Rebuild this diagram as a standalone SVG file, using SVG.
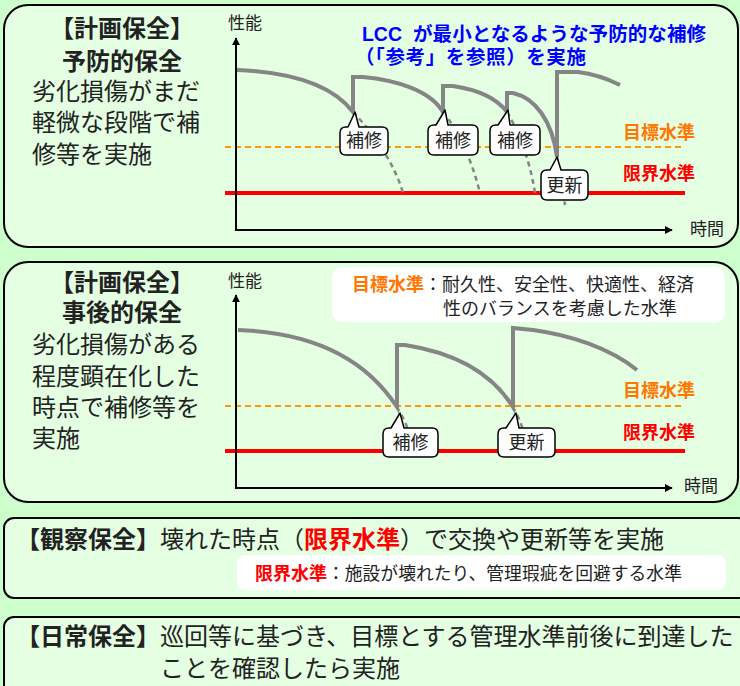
<svg xmlns="http://www.w3.org/2000/svg" width="740" height="686" viewBox="0 0 740 686">
<defs>
<marker id="arr" viewBox="0 0 10 10" refX="9" refY="5" markerWidth="4" markerHeight="4" orient="auto" markerUnits="strokeWidth">
<path d="M0,0 L10,5 L0,10 Z" fill="#000"/>
</marker>
<style>
text{font-family:"Noto Sans CJK JP","Noto Sans",sans-serif;fill:#222}
.b{font-weight:bold}
.panel{fill:#E4FFE2;stroke:#000;stroke-width:2}
.wbox{fill:#fff;stroke:none}
.callout{fill:#fff;stroke:#000;stroke-width:1.5;stroke-linejoin:round}
.curve{fill:none;stroke:#858585;stroke-width:4}
.dash{fill:none;stroke:#858585;stroke-width:2.5;stroke-dasharray:5 4}
.tgt{stroke:#FF9900;stroke-width:2;stroke-dasharray:6 4}
.lim{stroke:#FF0000;stroke-width:4}
.axis{stroke:#000;stroke-width:2;fill:none;marker-end:url(#arr)}
.h{font-size:24px}
.s{font-size:17px}
.c{font-size:18px;text-anchor:middle}
.lv{font-size:18px;font-weight:bold}
.org{fill:#FF7700}
.red{fill:#FF0000}
.blue{fill:#0000FF;font-size:19.5px;font-weight:bold}
</style>
</defs>
<rect width="740" height="686" fill="#CCFFCC"/>

<!-- Panel 1: preventive -->
<g id="panel-preventive">
<rect class="panel" x="4" y="5" width="734" height="242" rx="24"/>
<text class="h b" x="122" y="37" text-anchor="middle">【計画保全】</text>
<text class="h b" x="122" y="70" text-anchor="middle">予防的保全</text>
<text class="h" x="32" y="100">劣化損傷がまだ</text>
<text class="h" x="32" y="131">軽微な段階で補</text>
<text class="h" x="32" y="163">修等を実施</text>
<text class="blue" x="362" y="41"><tspan style="font-family:'Liberation Sans',Arial,sans-serif" textLength="40">LCC</tspan><tspan x="413" textLength="293">が最小となるような予防的な補修</tspan></text>
<text class="blue" x="355" y="64" textLength="231">（「参考」を参照）を実施</text>
<line class="tgt" x1="225" y1="147" x2="685" y2="147"/>
<line class="lim" x1="225" y1="193" x2="685" y2="193"/>
<line class="axis" x1="236" y1="231" x2="236" y2="38"/>
<line class="axis" x1="235" y1="230" x2="672" y2="230"/>
<text class="s" x="228" y="29">性能</text>
<text class="s" x="690" y="235">時間</text>
<text class="lv org" x="623" y="139">目標水準</text>
<text class="lv red" x="623" y="180">限界水準</text>
</g>

<!-- Panel 2: corrective -->
<g id="panel-corrective">
<rect class="panel" x="4" y="262" width="734" height="240" rx="24"/>
<text class="h b" x="122" y="291" text-anchor="middle">【計画保全】</text>
<text class="h b" x="122" y="321" text-anchor="middle">事後的保全</text>
<text class="h" x="32" y="353">劣化損傷がある</text>
<text class="h" x="32" y="385">程度顕在化した</text>
<text class="h" x="32" y="416">時点で補修等を</text>
<text class="h" x="32" y="447">実施</text>
<rect class="wbox" x="332" y="267" width="393" height="55" rx="10"/>
<text x="352" y="291" style="font-size:18px"><tspan class="b org">目標水準</tspan>：耐久性、安全性、快適性、経済</text>
<text x="443" y="315" style="font-size:18px">性のバランスを考慮した水準</text>
<line class="tgt" x1="225" y1="406" x2="685" y2="406"/>
<line class="lim" x1="225" y1="451" x2="685" y2="451"/>
<line class="axis" x1="236" y1="489" x2="236" y2="295"/>
<line class="axis" x1="235" y1="488" x2="672" y2="488"/>
<text class="s" x="228" y="287">性能</text>
<text class="s" x="684" y="492">時間</text>
<text class="lv org" x="623" y="397">目標水準</text>
<text class="lv red" x="623" y="439">限界水準</text>
</g>

<!-- Panel 3: observation -->
<g id="panel-observation">
<rect class="panel" x="4" y="518" width="744" height="80" rx="10"/>
<text class="h" x="16" y="548"><tspan class="b">【観察保全】</tspan>壊れた時点（<tspan class="b red">限界水準</tspan>）で交換や更新等を実施</text>
<rect class="wbox" x="237" y="555" width="489" height="35" rx="8"/>
<text x="255" y="580" style="font-size:17.8px"><tspan class="b red" style="font-size:18px">限界水準</tspan>：施設が壊れたり、管理瑕疵を回避する水準</text>
</g>

<!-- Panel 4: daily -->
<g id="panel-daily">
<rect class="panel" x="4" y="617" width="744" height="90" rx="10"/>
<text class="h" x="16" y="645"><tspan class="b">【日常保全】</tspan>巡回等に基づき、目標とする管理水準前後に到達した</text>
<text class="h" x="160" y="677">ことを確認したら実施</text>
</g>

<!-- Connectors: performance curves -->
<g id="connectors">
<path class="dash" d="M353,112 C375,135 395,165 403,193"/>
<path class="dash" d="M443,112 C458,130 472,160 480,193"/>
<path class="dash" d="M507,112 C518,130 530,160 535,193"/>
<path class="dash" d="M557,157 C560,175 563,190 565,205"/>
<path class="curve" d="M237,70 C285,72 330,82 353,112 L353,77 L363,77 C395,80 430,90 443,112 L443,86 L453,86 C480,90 498,100 507,112 L507,93 L513,93 C535,98 552,120 557,157 L557,72 L578,72 C595,74 608,79 620,85"/>
<path class="dash" d="M397,407 C400,413 405,420 408,430"/>
<path class="dash" d="M513,407 C516,413 520,420 523,430"/>
<path class="curve" d="M238,330 C300,332 360,350 397,407 L397,345 L405,345 C450,352 490,370 513,407 L513,328 L533,330 C570,335 610,348 637,370"/>
</g>

<!-- Callouts -->
<g id="callout-repair1">
<path class="callout" d="M346,127 L348,127 L355,112 L359,127 L382,127 Q388,127 388,133 L388,149 Q388,155 382,155 L346,155 Q340,155 340,149 L340,133 Q340,127 346,127 Z"/>
<text class="c" x="364" y="147">補修</text>
</g>
<g id="callout-repair2">
<path class="callout" d="M434,125 L436,125 L445,110 L448,125 L472,125 Q478,125 478,131 L478,149 Q478,155 472,155 L434,155 Q428,155 428,149 L428,131 Q428,125 434,125 Z"/>
<text class="c" x="453" y="147">補修</text>
</g>
<g id="callout-repair3">
<path class="callout" d="M496,125 L498,125 L508,110 L510,125 L534,125 Q540,125 540,131 L540,149 Q540,155 534,155 L496,155 Q490,155 490,149 L490,131 Q490,125 496,125 Z"/>
<text class="c" x="515" y="147">補修</text>
</g>
<g id="callout-renew1">
<path class="callout" d="M547,170 L550,170 L557,157 L561,170 L582,170 Q588,170 588,176 L588,194 Q588,200 582,200 L547,200 Q541,200 541,194 L541,176 Q541,170 547,170 Z"/>
<text class="c" x="564.5" y="192">更新</text>
</g>
<g id="callout-repair4">
<path class="callout" d="M389,428 L391,428 L400,413 L404,428 L432,428 Q438,428 438,434 L438,451 Q438,457 432,457 L389,457 Q383,457 383,451 L383,434 Q383,428 389,428 Z"/>
<text class="c" x="410.5" y="449">補修</text>
</g>
<g id="callout-renew2">
<path class="callout" d="M504,428 L506,428 L516,413 L519,428 L549,428 Q555,428 555,434 L555,451 Q555,457 549,457 L504,457 Q498,457 498,451 L498,434 Q498,428 504,428 Z"/>
<text class="c" x="526.5" y="449">更新</text>
</g>
</svg>
